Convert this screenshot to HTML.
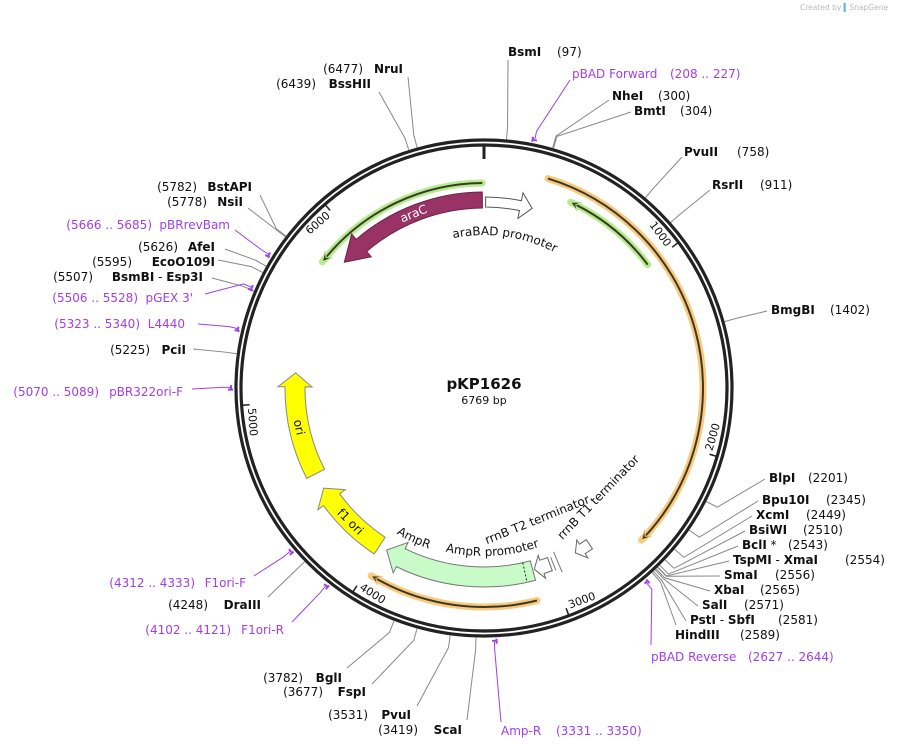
<!DOCTYPE html>
<html><head><meta charset="utf-8">
<style>
html,body{margin:0;padding:0;background:#fff;}
svg{display:block;font-family:"DejaVu Sans","Liberation Sans",sans-serif;}
.b{font-weight:bold;}
</style></head>
<body>
<svg id="map" width="897" height="750" viewBox="0 0 897 750" xmlns="http://www.w3.org/2000/svg">
<text x="800" y="10" font-size="7.5" fill="#bbb">Created by <tspan fill="#6ab0e0">▍</tspan>SnapGene</text>
<g id="backbone">
 <circle cx="484" cy="388" r="248" fill="none" stroke="#222" stroke-width="3.2"/>
 <circle cx="484" cy="388" r="243" fill="none" stroke="#222" stroke-width="3.2"/>
</g>
<g id="ticks"></g>
<g id="features"></g>
<g id="sites"></g>
<text x="484" y="389" text-anchor="middle" font-size="15" font-weight="bold" fill="#111">pKP1626</text>
<text x="484" y="404" text-anchor="middle" font-size="11" fill="#111">6769 bp</text>
</svg>
<script>
const TOTAL = 6769;
const tickPositions = [1000,2000,3000,4000,5000,6000];
// restriction sites: name, position
const siteNames = ["BsmI","NheI","BmtI","PvuII","RsrII","BmgBI","BlpI","Bpu10I","XcmI","BsiWI","BclI *","TspMI - XmaI","SmaI","XbaI","SalI","PstI - SbfI","HindIII","ScaI","PvuI","FspI","BglI","DraIII","PciI","BsmBI - Esp3I","EcoO109I","AfeI","NsiI","BstAPI","BssHII","NruI"];
const sitePositions = [97,300,304,758,911,1402,2201,2345,2449,2510,2543,2554,2556,2565,2571,2581,2589,3419,3531,3677,3782,4248,5225,5507,5595,5626,5778,5782,6439,6477];
// primers: name, start, end
const primerNames = ["pBAD Forward","pBAD Reverse","Amp-R","F1ori-R","F1ori-F","pBR322ori-F","L4440","pGEX 3'","pBRrevBam"];
const primerStarts = [208,2627,3331,4102,4312,5070,5323,5506,5666];
const primerEnds = [227,2644,3350,4121,4333,5089,5340,5528,5685];

const NS="http://www.w3.org/2000/svg";
const CX=484, CY=388;
function ang(p){return p/TOTAL*360;}
function pt(a,r){const t=a*Math.PI/180;return [CX+r*Math.sin(t),CY-r*Math.cos(t)];}
function mk(tag,attrs,parent){const e=document.createElementNS(NS,tag);for(const k in attrs)e.setAttribute(k,attrs[k]);parent.appendChild(e);return e;}
function arcD(r,a1,a2){const p1=pt(a1,r),p2=pt(a2,r);const large=Math.abs(a2-a1)>180?1:0;const sw=a2>a1?1:0;return `M${p1[0]},${p1[1]} A${r},${r} 0 ${large} ${sw} ${p2[0]},${p2[1]}`;}

// ---- ticks
const tg=document.getElementById('ticks');
{const a=pt(0,243),b=pt(0,229);const l=mk('line',{x1:a[0],y1:a[1],x2:b[0],y2:b[1],stroke:'#222','stroke-width':3},tg);

}
tickPositions.forEach(p=>{
 const a=ang(p);const p1=pt(a,243),p2=pt(a,235);
 const l=mk('line',{x1:p1[0],y1:p1[1],x2:p2[0],y2:p2[1],stroke:'#222','stroke-width':1.5},tg);
 
 
 const m=a-4.3; const c=pt(m,234);
 let rot=a-180; if(rot>90)rot-=180; if(rot<-90)rot+=180;
 const t=mk('text',{x:c[0],y:c[1],'font-size':11,'text-anchor':'middle','dominant-baseline':'central',fill:'#111',transform:`rotate(${rot} ${c[0]} ${c[1]})`},tg);
 t.textContent=p;
 
 
});

// ---- features
const fg=document.getElementById('features');
function arrowShape(r1,r2,a1,a2,headAtEnd,hLenPx,hExt){
 const rm=(r1+r2)/2, h=hLenPx/rm*180/Math.PI;
 let d;
 if(headAtEnd){
  const b=a2-h;
  const o1=pt(a1,r2),ob=pt(b,r2),ho=pt(b,r2+hExt),tip=pt(a2,rm),hi=pt(b,r1-hExt),ib=pt(b,r1),i1=pt(a1,r1);
  d=`M${o1[0]},${o1[1]} A${r2},${r2} 0 0 1 ${ob[0]},${ob[1]} L${ho[0]},${ho[1]} L${tip[0]},${tip[1]} L${hi[0]},${hi[1]} L${ib[0]},${ib[1]} A${r1},${r1} 0 0 0 ${i1[0]},${i1[1]} Z`;
 } else {
  const b=a1+h;
  const o2=pt(a2,r2),ob=pt(b,r2),ho=pt(b,r2+hExt),tip=pt(a1,rm),hi=pt(b,r1-hExt),ib=pt(b,r1),i2=pt(a2,r1);
  d=`M${o2[0]},${o2[1]} A${r2},${r2} 0 0 0 ${ob[0]},${ob[1]} L${ho[0]},${ho[1]} L${tip[0]},${tip[1]} L${hi[0]},${hi[1]} L${ib[0]},${ib[1]} A${r1},${r1} 0 0 1 ${i2[0]},${i2[1]} Z`;
 }
 return d;
}
function feature(name,r1,r2,a1,a2,headAtEnd,fill,stroke,hl,he){
 const p=mk('path',{d:arrowShape(r1,r2,a1,a2,headAtEnd,hl,he),fill:fill,stroke:stroke,'stroke-width':1},fg);
 
 
}
function lineArrow(name,r,a1,a2,headAtEnd,halo){
 const g=mk('g',{},fg);
 
 
 const h=10/r*180/Math.PI;
 const s=headAtEnd?a1:a1+h*0.6, e=headAtEnd?a2-h*0.6:a2;
 mk('path',{d:arcD(r,a1,a2),fill:'none',stroke:halo,'stroke-width':7,'stroke-linecap':'round'},g);
 mk('path',{d:arcD(r,s,e),fill:'none',stroke:'#3a3a2a','stroke-width':2},g);
 const tipA=headAtEnd?a2:a1, bA=headAtEnd?a2-h:a1+h;
 const tip=pt(tipA,r),b1=pt(bA,r+5),b2=pt(bA,r-5),bm=pt(bA+(headAtEnd?2:-2)*0.6,r);
 mk('path',{d:`M${tip[0]},${tip[1]} L${b1[0]},${b1[1]} L${bm[0]},${bm[1]} L${b2[0]},${b2[1]} Z`,fill:'#3a3a2a',stroke:halo,'stroke-width':1},g);
}
lineArrow('green-arc-left',205,-52,-0.5,false,'#b5ec8c');
lineArrow('green-arc-right',205,25,53,false,'#b5ec8c');
lineArrow('orange-arc-right',219,17,134,true,'#fcc87a');
lineArrow('orange-arc-bottom',219,166,211,true,'#fcc87a');
feature('araC-arrow',180,196,-48,-0.5,false,'#993366','#6b2346',24,7);
feature('araBAD-promoter-arrow',181,191,0.5,15,true,'#fff','#555',12,8);
feature('AmpR-arrow',179,199,165,211,true,'#c9fbc9','#777',16,7);
feature('AmpR-promoter-arrow',181,195,159.5,164.5,true,'#fff','#666',8,5);
feature('rrnB-T1-terminator-arrow',183,194,146,151,true,'#fff','#666',8,5);
feature('f1-ori-arrow',179,199,213.5,238,true,'#ffff00','#888',14,7);
feature('ori-arrow',179,199,243,274.6,true,'#ffff00','#888',14,7);
{ // dotted line in AmpR
 const a=pt(167.5,179),b=pt(167.5,199);
 const l=mk('line',{x1:a[0],y1:a[1],x2:b[0],y2:b[1],stroke:'#222','stroke-width':1,'stroke-dasharray':'2,2'},fg);
 
 
 // rrnB T2 terminator thin marks
 const c=pt(157,178),d=pt(157,200),e=pt(158.5,182),f=pt(158.5,196);
 const t2=mk('path',{d:`M${c[0]},${c[1]} L${d[0]},${d[1]} M${e[0]},${e[1]} L${f[0]},${f[1]}`,stroke:'#777','stroke-width':1,fill:'none'},fg);
 
 
}
let pid=0;
function arcText(txt,a,r,top,size,fill,name){
 const id='tp'+(pid++);
 const d=top?arcD(r,a-90,a+90):(()=>{const p1=pt(a+90,r),p2=pt(a-90,r);return `M${p1[0]},${p1[1]} A${r},${r} 0 0 0 ${p2[0]},${p2[1]}`;})();
 mk('path',{id:id,d:d,fill:'none',stroke:'none'},fg);
 const t=mk('text',{'font-size':size,fill:fill},fg);
 
 
 const tp=mk('textPath',{href:'#'+id,startOffset:'50%','text-anchor':'middle'},t);
 tp.textContent=txt;
}
arcText('araBAD promoter',8,153,true,12,'#111','araBAD-promoter-label');
arcText('AmpR',205,170,false,12,'#111','AmpR-label');
arcText('AmpR promoter',177,168,false,12,'#111','AmpR-promoter-label');
function rotText(txt,a,r,rot,fill,name,size){
 const c=pt(a,r);
 const t=mk('text',{x:c[0],y:c[1],'font-size':size,'text-anchor':'middle','dominant-baseline':'central',fill:fill,transform:`rotate(${rot} ${c[0]} ${c[1]})`},fg);
 t.textContent=txt;
 
 
}
rotText('rrnB T2 terminator',158,142,-22,'#111','rrnB-T2-label',12);
rotText('rrnB T1 terminator',133.7,158,-46,'#111','rrnB-T1-label',12);
rotText('araC',-22,188,-22,'#fff','araC-label',12);
rotText('f1 ori',225,189,45,'#111','f1-ori-label',12);
rotText('ori',258,189,78,'#111','ori-label',12);

// ---- site labels
const sg=document.getElementById('sites');
const PURP='#a23ee6';
// label layout: [side, nameX, numX, y, anchorX, anchorY]  side R: text start; L: text end
const siteLayout = {
 "BsmI":['R',508,557,52,508,60],"NheI":['R',612,658,96,609,100],"BmtI":['R',634,680,111,631,112],
 "PvuII":['R',684,737,152,682,157],"RsrII":['R',712,760,185,710,190],"BmgBI":['R',771,830,310,767,311],
 "BlpI":['R',769,808,478,765,479],"Bpu10I":['R',762,826,500,758,501],"XcmI":['R',756,806,515,752,516],
 "BsiWI":['R',749,803,530,745,531],"BclI *":['R',742,788,545,738,546],"TspMI - XmaI":['R',733,845,560,729,561],
 "SmaI":['R',724,775,575,720,576],"XbaI":['R',714,760,590,710,591],"SalI":['R',702,744,605,698,606],
 "PstI - SbfI":['R',690,778,620,686,621],"HindIII":['R',675,740,635,676,625],
 "ScaI":['L',462,418,730,467,720],"PvuI":['L',411,368,715,417,706],"FspI":['L',366,323,692,372,684],
 "BglI":['L',342,303,678,347,668],"DraIII":['L',261,208,605,268,597],"PciI":['L',186,150,350,193,349],
 "BsmBI - Esp3I":['L',203,93,277,212,278],"EcoO109I":['L',215,132,262,218,260],"AfeI":['L',215,178,247,225,249],
 "NsiI":['L',243,207,202,248,208],"BstAPI":['L',252,197,187,260,195],
 "BssHII":['L',371,316,84,379,92],"NruI":['L',403,363,69,408,77]
};
const primerLayout = {
 "pBAD Forward":['R',572,670,74,570,80],"pBAD Reverse":['R',651,748,657,651,645],
 "Amp-R":['R',501,556,731,501,722],"F1ori-R":['L',284,231,630,292,622],"F1ori-F":['L',246,195,583,254,576],
 "pBR322ori-F":['L',183,99,392,192,389],"L4440":['L',185,140,324,198,324],"pGEX 3'":['L',193,138,298,205,294],
 "pBRrevBam":['L',230,152,225,235,230]
};
function nameText(name,x,y,anchor,bold,fill,parent){
 const t=mk('text',{x:x,y:y,'font-size':12,'text-anchor':anchor,'dominant-baseline':'central',fill:fill},parent);
 const parts=name.split(' - ');
 if(parts.length===2){
  const a=mk('tspan',{'font-weight':bold?'bold':'normal'},t);a.textContent=parts[0];
  const m=mk('tspan',{},t);m.textContent='  - ';
  const b=mk('tspan',{'font-weight':bold?'bold':'normal'},t);b.textContent=parts[1];
 } else if(name.endsWith(' *')){
  const a=mk('tspan',{'font-weight':'bold'},t);a.textContent=name.slice(0,-2);
  const m=mk('tspan',{},t);m.textContent=' *';
 } else { t.textContent=name; if(bold)t.setAttribute('font-weight','bold'); }
 return t;
}
siteNames.forEach((n,i)=>{
 const L=siteLayout[n]; const a=ang(sitePositions[i]);
 const g=mk('g',{},sg);
 
 
 const p1=pt(a,249.5),p2=pt(a,262);
 mk('polyline',{points:`${p1[0]},${p1[1]} ${p2[0]},${p2[1]} ${L[4]},${L[5]}`,fill:'none',stroke:'#888','stroke-width':1},g);
 nameText(n,L[1],L[3],L[0]==='R'?'start':'end',true,'#111',g);
 const nt=mk('text',{x:L[2],y:L[3],'font-size':12,'text-anchor':L[0]==='R'?'start':'end','dominant-baseline':'central',fill:'#111'},g);
 nt.textContent='('+sitePositions[i]+')';
});
primerNames.forEach((n,i)=>{
 const L=primerLayout[n]; const a1=ang(primerStarts[i]),a2=ang(primerEnds[i]);
 const g=mk('g',{},sg);
 
 
 const am=(a1+a2)/2;
 mk('path',{d:arcD(253,a1,a2),fill:'none',stroke:PURP,'stroke-width':2},g);
 const e1=pt(a1,251),e2=pt(a1,256);
 mk('line',{x1:e1[0],y1:e1[1],x2:e2[0],y2:e2[1],stroke:PURP,'stroke-width':2},g);
 const p1=pt(am,254),p2=pt(am,262);
 mk('polyline',{points:`${p1[0]},${p1[1]} ${p2[0]},${p2[1]} ${L[4]},${L[5]}`,fill:'none',stroke:PURP,'stroke-width':1},g);
 nameText(n,L[1],L[3],L[0]==='R'?'start':'end',false,PURP,g);
 const nt=mk('text',{x:L[2],y:L[3],'font-size':12,'text-anchor':L[0]==='R'?'start':'end','dominant-baseline':'central',fill:PURP},g);
 nt.textContent='('+primerStarts[i]+' .. '+primerEnds[i]+')';
});
</script>
</body></html>
